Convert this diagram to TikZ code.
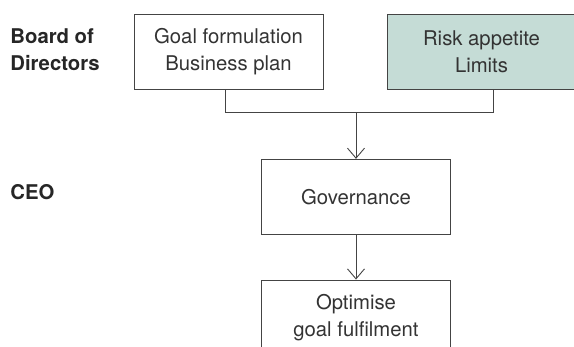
\documentclass[tikz,border=0pt]{standalone}
\usepackage{fontspec}
\setmainfont{TeX Gyre Heros}
\usetikzlibrary{arrows.meta}
\definecolor{riskfill}{HTML}{C5DCD6}
\definecolor{linegray}{HTML}{444444}
\definecolor{textgray}{HTML}{333333}
\newcommand{\boxfont}{\fontsize{20.3}{26.7}\selectfont}

\begin{document}
\begin{tikzpicture}[x=1pt,y=-1pt,
  line width=0.9pt, draw=linegray,
  box/.style={shape=rectangle, draw=linegray, minimum width=189pt, minimum height=75pt,
    align=center, text=textgray, font=\boxfont, inner sep=0pt},
  level/.style={anchor=west, align=left, text=black!85, font=\boxfont\bfseries, inner sep=0pt},
  arr/.style={-{Straight Barb[length=10pt,width=17pt,line width=0.9pt]}}]
\useasboundingbox (0,0) rectangle (574,347);

% level labels
\path (10,50) node (board) [level] {Board of\\Directors};
\path (10,192.5) node (ceo) [level] {CEO};

% boxes
\path (228.5,51.5) node (goal) [box] {Goal formulation\\Business plan};
\path (481.5,51.5) node (risk) [box, fill=riskfill] {Risk appetite\\Limits};
\path (356,196.8) node (gov) [box] {Governance};
\path (356,317.5) node (opt) [box] {Optimise\\goal fulfilment};

\coordinate (join) at (356,112.7);

\draw [linegray] ([xshift=-3pt]goal.south) |- (join) -| ([xshift=11.5pt]risk.south);
\draw [linegray, arr] (join) to (gov);
\draw [linegray, arr] (gov) to (opt);

\end{tikzpicture}
\end{document}
